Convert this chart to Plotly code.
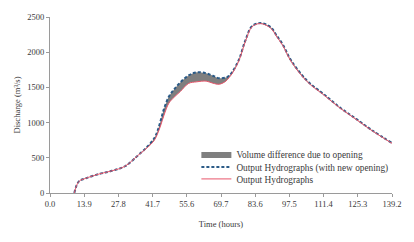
import plotly.graph_objects as go

# Time (hours)
time_h = [9.9, 11.7, 14.6, 19.9, 25.2, 30.5, 35.8, 39.8, 42.4, 43.7, 45.1, 46.4, 48.4, 50.5,
          53.0, 56.4, 59.7, 63.6, 66.3, 68.9, 71.6, 72.9, 74.2, 76.9, 79.5, 82.2, 85.0, 87.5,
          90.2, 92.1, 94.8, 98.1, 104.7, 111.4, 118.0, 124.6, 131.2, 139.2]

# Output hydrograph (original)
q_output = [0, 162, 209, 269, 315, 380, 534, 650, 745, 835, 965, 1105, 1277, 1360,
            1440, 1556, 1579, 1589, 1560, 1545, 1589, 1640, 1700, 1880, 2150, 2360, 2406, 2390,
            2330, 2230, 2091, 1870, 1580, 1394, 1207, 1045, 882, 705]

# Output hydrograph with new opening
q_new_opening = [0, 162, 209, 269, 315, 380, 534, 665, 775, 875, 1035, 1195, 1370, 1470,
                 1570, 1670, 1715, 1700, 1665, 1630, 1640, 1665, 1719, 1895, 2165, 2370, 2412, 2400,
                 2342, 2245, 2105, 1885, 1592, 1404, 1215, 1052, 888, 710]

x_tick_labels = ["0.0", "13.9", "27.8", "41.7", "55.6", "69.7", "83.6", "97.5", "111.4", "125.3", "139.2"]
x_tick_vals = [0.0, 13.92, 27.84, 41.76, 55.68, 69.6, 83.52, 97.44, 111.36, 125.28, 139.2]
y_tick_vals = [0, 500, 1000, 1500, 2000, 2500]

FONT = "Liberation Serif"
TXT = "#3a3a3a"

fig = go.Figure()
fig.add_trace(go.Scatter(x=time_h, y=q_output, mode="lines", line=dict(width=0, shape="spline"),
                         showlegend=False, hoverinfo="skip"))
fig.add_trace(go.Scatter(x=time_h, y=q_new_opening, mode="lines", fill="tonexty",
                         fillcolor="#7f7f7f", line=dict(width=0, shape="spline", color="#7f7f7f"),
                         name="Volume difference due to opening", legend="legend"))
fig.add_trace(go.Scatter(x=time_h, y=q_new_opening, mode="lines",
                         line=dict(color="#2b5b87", width=2, dash="3px,2px", shape="spline"),
                         name="Output Hydrographs (with new opening)", legend="legend2"))
fig.add_trace(go.Scatter(x=time_h, y=q_output, mode="lines",
                         line=dict(color="#e8556a", width=1, shape="spline"),
                         name="Output Hydrographs", legend="legend3"))

leg_common = dict(x=0.428, xanchor="left", yanchor="middle", bgcolor="rgba(0,0,0,0)",
                  font=dict(family=FONT, size=9.3, color=TXT), itemwidth=30,
                  borderwidth=0)

fig.update_layout(
    width=414, height=242,
    margin=dict(l=50, r=14, t=14, b=49),
    paper_bgcolor="white", plot_bgcolor="white",
    font=dict(family=FONT, size=9, color=TXT),
    legend=dict(y=0.222, **leg_common),
    legend2=dict(y=0.148, **leg_common),
    legend3=dict(y=0.080, **leg_common),
    xaxis=dict(range=[0, 139.2], tickvals=x_tick_vals, ticktext=x_tick_labels,
               showgrid=False, zeroline=False, showline=True, linecolor="#9a9a9a", linewidth=1,
               ticks="outside", ticklen=3, tickcolor="#9a9a9a",
               tickfont=dict(family=FONT, size=8.5, color=TXT),
               title=dict(text="Time (hours)", font=dict(family=FONT, size=8.5, color=TXT), standoff=12)),
    yaxis=dict(range=[0, 2500], tickvals=y_tick_vals,
               showgrid=False, zeroline=False, showline=True, linecolor="#9a9a9a", linewidth=1,
               ticks="outside", ticklen=3, tickcolor="#9a9a9a",
               tickfont=dict(family=FONT, size=8.5, color=TXT),
               title=dict(text="Discharge (m³/s)", font=dict(family=FONT, size=8.5, color=TXT), standoff=5)),
)

fig.write_html("out.html", config={"displayModeBar": False},
               post_script="document.body.style.margin='0';document.body.style.padding='0';")
